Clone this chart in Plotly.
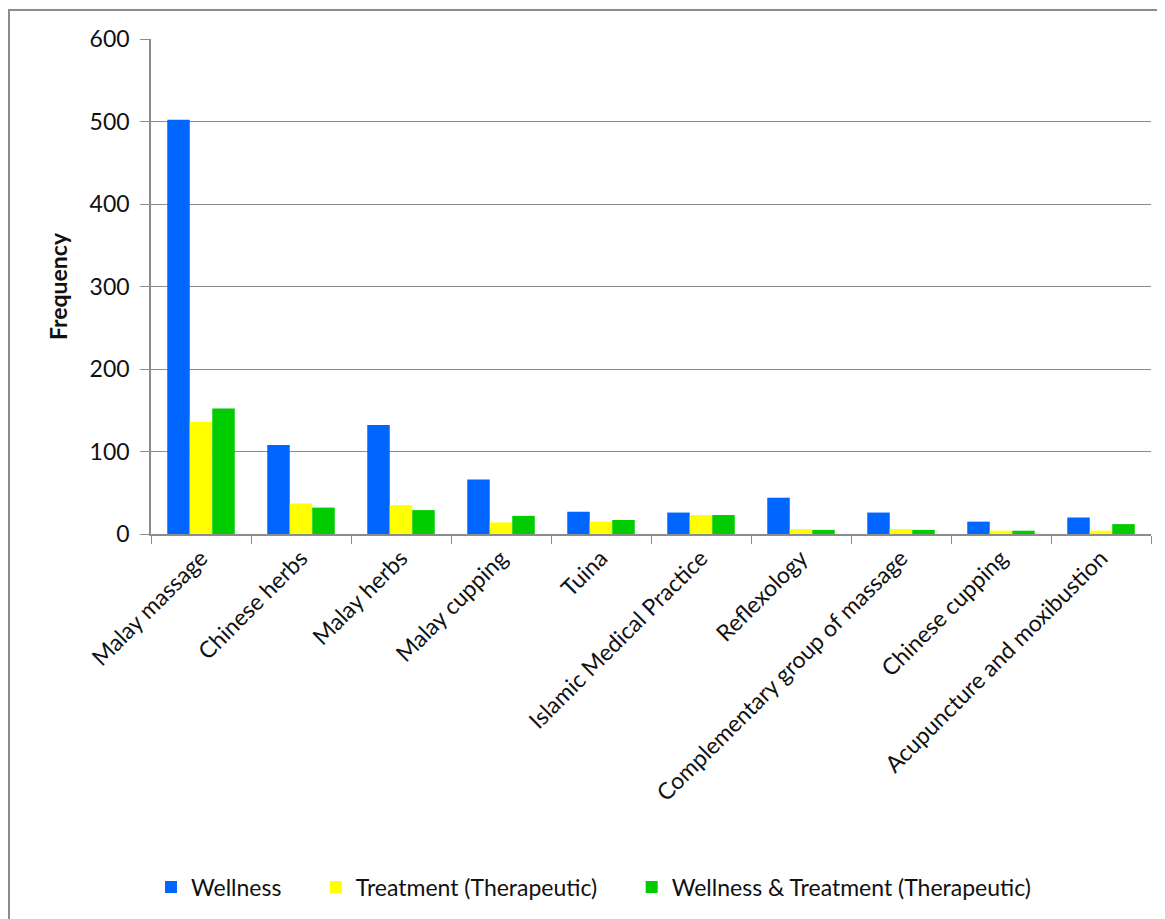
import plotly.graph_objects as go

categories = ["Malay massage", "Chinese herbs", "Malay herbs", "Malay cupping", "Tuina",
              "Islamic Medical Practice", "Reflexology", "Complementary group of massage",
              "Chinese cupping", "Acupuncture and moxibustion"]
wellness = [502, 108, 132, 66, 27, 26, 44, 26, 15, 20]
treatment = [136, 37, 35, 14, 15, 23, 6, 6, 4, 4]
both = [152, 32, 29, 22, 17, 23, 5, 5, 4, 12]
series_names = ["Wellness", "Treatment (Therapeutic)", "Wellness & Treatment (Therapeutic)"]
series_colors = ["#0066FF", "#FFFF00", "#00CC00"]
y_ticks = [0, 100, 200, 300, 400, 500, 600]

FONT = "Lato, 'Open Sans', sans-serif"
FS = 23
PAD = "\u00a0" * 5

fig = go.Figure()
for name, vals, col in zip(series_names, [wellness, treatment, both], series_colors):
    fig.add_trace(go.Bar(x=categories, y=vals, name=name + PAD,
                         marker=dict(color=col, line=dict(width=0))))

fig.update_layout(
    width=1157, height=911,
    margin=dict(l=143, r=14, t=31, b=384),
    paper_bgcolor="white", plot_bgcolor="white",
    barmode="group", bargap=0.325, bargroupgap=0,
    font=dict(family=FONT, size=FS, color="#111111"),
    showlegend=True,
    legend=dict(orientation="h", x=0.0, y=-0.71, xanchor="left", yanchor="middle",
                font=dict(size=FS), itemwidth=30, traceorder="normal"),
    shapes=[dict(type="rect", xref="paper", yref="paper", x0=-0.142, y0=-1.2,
                 x1=1.05, y1=1.0585, line=dict(color="#8c8c8c", width=2), layer="below")],
)
fig.update_xaxes(
    tickangle=-45, tickson="boundaries", ticks="outside", ticklen=8, tickcolor="#8c8c8c",
    showline=True, linecolor="#8c8c8c", linewidth=1.5, showgrid=False,
    tickfont=dict(size=FS),
)
fig.update_yaxes(
    range=[0, 600], tickvals=y_ticks, ticks="outside", ticklen=9, tickcolor="#8c8c8c",
    showline=True, linecolor="#8c8c8c", linewidth=1.5,
    showgrid=True, gridcolor="#8c8c8c", gridwidth=1.2, zeroline=False,
    tickfont=dict(size=FS), ticklabelstandoff=6,
    title=dict(text="<b>Frequency</b>", font=dict(size=FS), standoff=16),
)

fig.write_html("out.html")
